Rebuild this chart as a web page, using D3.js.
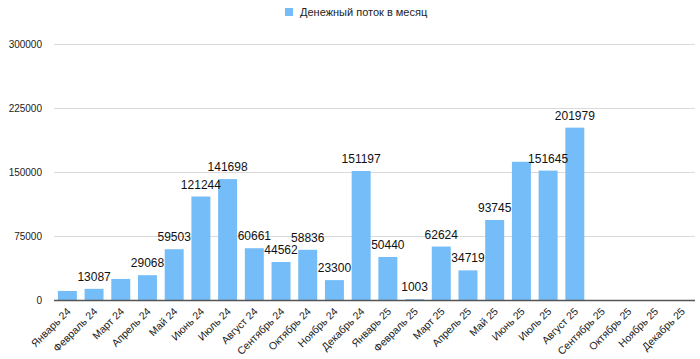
<!DOCTYPE html>
<html><head><meta charset="utf-8">
<script src="https://cdn.jsdelivr.net/npm/d3@7/dist/d3.min.js"></script>
<style>
html,body{margin:0;padding:0;background:#fff;}
svg{display:block;font-family:"Liberation Sans",Arial,Helvetica,sans-serif;}
</style></head>
<body><svg id="chart" width="700" height="359"></svg>
<script>
const categories = ["Январь 24","Февраль 24","Март 24","Апрель 24","Май 24","Июнь 24","Июль 24","Август 24","Сентябрь 24","Октябрь 24","Ноябрь 24","Декабрь 24","Январь 25","Февраль 25","Март 25","Апрель 25","Май 25","Июнь 25","Июль 25","Август 25","Сентябрь 25","Октябрь 25","Ноябрь 25","Декабрь 25"];
const values = [10600,13087,24700,29068,59503,121244,141698,60661,44562,58836,23300,151197,50440,1003,62624,34719,93745,162000,151645,201979,null,null,null,null];
const yTicks = [0,75000,150000,225000,300000];
const seriesName = "Денежный поток в месяц";

const svg = d3.select("#chart");
const M = {left:54, right:695, top:44, bottom:300};
const color = "#74bdf8";

const x = d3.scaleBand().domain(categories).range([M.left, M.right]).paddingInner(0.29).paddingOuter(0.145);
const y = d3.scaleLinear().domain([0,300000]).range([M.bottom, M.top]);

// legend
const lg = svg.append("g");
lg.append("rect").attr("x",285).attr("y",8).attr("width",8).attr("height",8).attr("fill",color);
lg.append("text").attr("x",300).attr("y",16).attr("font-size",11).attr("fill","#222").text(seriesName);

// grid + y labels
const yAxis = d3.axisLeft(y).tickValues(yTicks).tickSize(0).tickPadding(0).tickFormat(d3.format("d"));
const yg = svg.append("g").attr("transform",`translate(42,0)`).call(yAxis);
yg.select(".domain").remove();
yg.selectAll("text").attr("font-size",10).attr("fill","#222").attr("font-family","Liberation Sans, Arial, sans-serif").attr("dy","0.35em");
svg.append("g").selectAll("line").data(yTicks.filter(d=>d>0)).join("line")
  .attr("x1",M.left).attr("x2",M.right).attr("y1",d=>Math.round(y(d))+0.5).attr("y2",d=>Math.round(y(d))+0.5)
  .attr("stroke","#dadada").attr("stroke-width",1);

// bars
const data = categories.map((c,i)=>({c, v:values[i]})).filter(d=>d.v!=null);
svg.append("g").selectAll("rect").data(data).join("rect")
  .attr("x",d=>x(d.c)).attr("width",x.bandwidth())
  .attr("y",d=>y(d.v)).attr("height",d=>y(0)-y(d.v))
  .attr("fill",color);

// x axis line
svg.append("line").attr("x1",M.left).attr("x2",M.right).attr("y1",y(0)+0.5).attr("y2",y(0)+0.5)
  .attr("stroke","#555").attr("stroke-width",1.6);

// x labels
const xAxis = d3.axisBottom(x).tickSize(0).tickPadding(0);
const xg = svg.append("g").attr("transform",`translate(0,${M.bottom})`).call(xAxis);
xg.select(".domain").remove();
xg.selectAll("text").attr("font-size",10.5).attr("fill","#1a1a1a").attr("font-family","Liberation Sans, Arial, sans-serif")
  .attr("text-anchor","end").attr("dy",null).attr("y",null)
  .attr("transform","translate(4,12) rotate(-45)");

// data labels with collision hiding (right to left)
const fs = 12;
const placed = [];
const lbl = [];
for (let i = data.length-1; i>=0; i--) {
  const d = data[i];
  const txt = String(d.v);
  const w = txt.length*fs*0.556;
  const cx = x(d.c)+x.bandwidth()/2;
  const by = y(d.v)-8;
  const box = {x0:cx-w/2, x1:cx+w/2, y0:by-9.5, y1:by+1.5};
  const hit = placed.some(b=>!(box.x1<=b.x0||box.x0>=b.x1||box.y1<=b.y0||box.y0>=b.y1));
  if (!hit) { placed.push(box); lbl.push({cx,by,txt}); }
}
svg.append("g").selectAll("text").data(lbl).join("text")
  .attr("x",d=>d.cx).attr("y",d=>d.by).attr("text-anchor","middle")
  .attr("font-size",fs).attr("fill","#111").text(d=>d.txt);
</script></body></html>
